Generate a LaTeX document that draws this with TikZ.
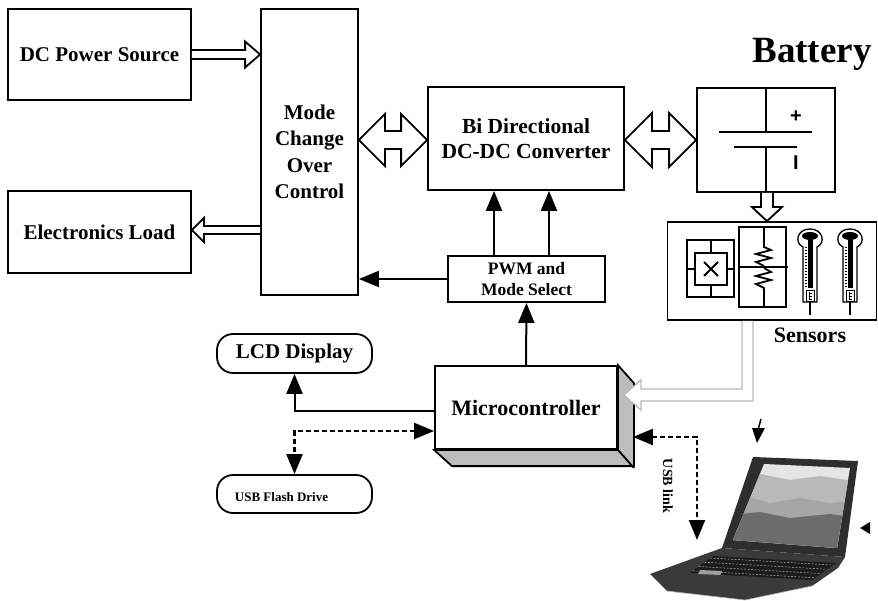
\documentclass[tikz,border=0pt]{standalone}
\usepackage{fontspec}
\setmainfont{Liberation Serif}
\newfontfamily\sansbold{Liberation Sans}
\usetikzlibrary{arrows.meta,calc}

\definecolor{lidgray}{HTML}{2E2E2E}
\definecolor{basegray}{HTML}{3A3A3A}
\definecolor{keygray}{HTML}{1C1C1C}
\definecolor{facegray}{HTML}{BDBDBD}

\tikzset{
  blk/.style={draw, line width=1.8pt, inner sep=0pt, align=center, fill=white,
              font=\bfseries\fontsize{21}{26}\selectfont},
  rblk/.style={blk, rounded corners=16pt},
  conn/.style={line width=2pt},
  dconn/.style={line width=2.2pt, dash pattern=on 5pt off 3pt},
  hollow/.style={draw, fill=white, line width=1.8pt, line join=miter},
  sym/.style={line width=1.8pt},
  tipA/.tip={Triangle[length=20pt,width=16pt]},
  thermo/.pic={
    \draw[line width=1.3pt, fill=white] (-7,57) -- (-7,2)
      .. controls (-16,-2) and (-13,-16) .. (0,-16)
      .. controls (13,-16) and (16,-2) .. (7,2) -- (7,57) -- cycle;
    \fill (0,-9) ellipse [x radius=8, y radius=4];
    \fill (-2.5,-7) rectangle (2.5,43);
    \foreach \t in {2,5,...,41} \draw[line width=0.5pt] (-5.5,\t) -- (-3,\t);
    \draw[line width=0.8pt] (-4,45) rectangle (4,56);
    \draw[line width=0.6pt] (-1,47) -- (-1,54) (-1,48) -- (2,48) (-1,51) -- (2,51) (-1,54) -- (2,54);
    \draw[line width=1.5pt] (0,57) -- (0,70);
  }
}

% straight block arrow: start, tip, shaft half width, head half width, head length
\newcommand\hollowarrow[5]{%
  \path ($(#2)!#5!(#1)$) coordinate (hb);
  \draw[hollow] ($(#1)!#3!90:(#2)$) -- ($(hb)!#3!-90:(#1)$) -- ($(hb)!#4!-90:(#1)$)
    -- (#2) -- ($(hb)!#4!90:(#1)$) -- ($(hb)!#3!90:(#1)$) -- ($(#1)!#3!-90:(#2)$);}

% double-headed block arrow
\newcommand\hollowdarrow[5]{%
  \path ($(#1)!#5!(#2)$) coordinate (hbA) ($(#2)!#5!(#1)$) coordinate (hbB);
  \draw[hollow] (#1) -- ($(hbA)!#4!90:(#2)$) -- ($(hbA)!#3!90:(#2)$)
    -- ($(hbB)!#3!-90:(#1)$) -- ($(hbB)!#4!-90:(#1)$) -- (#2)
    -- ($(hbB)!#4!90:(#1)$) -- ($(hbB)!#3!90:(#1)$)
    -- ($(hbA)!#3!-90:(#2)$) -- ($(hbA)!#4!-90:(#2)$) -- cycle;}

\begin{document}
\begin{tikzpicture}[x=1pt,y=-1pt]
\useasboundingbox (0,0) rectangle (878,601);

% ---------------- blocks ----------------
\node[blk, minimum width=183pt, minimum height=91pt] (dc) at (99.5,54.5) {DC Power Source};
\node[blk, minimum width=183pt, minimum height=82pt] (load) at (99.5,232) {Electronics Load};
\node[blk, minimum width=97pt, minimum height=286pt,
      font=\bfseries\fontsize{21}{26.5}\selectfont] (mode) at (309.5,152) {Mode\\Change\\Over\\Control};
\node[blk, minimum width=196pt, minimum height=103pt,
      font=\bfseries\fontsize{21.5}{25}\selectfont] (conv) at (526,138.5) {Bi Directional\\DC-DC Converter};
\node[blk, minimum width=138pt, minimum height=104pt] (bat) at (766,140) {};
\node[font=\bfseries\fontsize{37}{40}\selectfont] (battxt) at (812,54) {Battery};
\node[blk, minimum width=209pt, minimum height=98pt] (sens) at (772,271) {};
\node[font=\bfseries\fontsize{22}{24}\selectfont] (senstxt) at (810,335) {Sensors};
\node[blk, minimum width=157pt, minimum height=46pt,
      font=\bfseries\fontsize{17.5}{21}\selectfont] (pwm) at (526.5,279) {PWM and\\Mode Select};
\node[rblk, minimum width=155pt, minimum height=39pt] (lcd) at (294.5,353.5) {LCD Display};
\node[rblk, minimum width=155pt, minimum height=38pt] (usb) at (294.5,494) {};
\node[font=\bfseries\fontsize{13}{15}\selectfont] (usbtxt) at (281.5,497) {USB Flash Drive};

% microcontroller as a 3D block
\node[blk, minimum width=182pt, minimum height=83pt,
      font=\bfseries\fontsize{22}{24}\selectfont] (micro) at (526,407.5) {Microcontroller};
\draw[sym, fill=facegray, line join=miter] (micro.north east) -- ++(16,18) -- ++(0,83)
  -- ++(-182,0) -- (micro.south west) -- (micro.south east) -- cycle;
\draw[sym] (micro.south east) -- ++(16,18);

% ---------------- battery symbol ----------------
\draw[sym] (bat.north) -- ++(0,44);
\draw[sym] ($(bat.center)+(-47,-8)$) -- ++(93,0);
\draw[sym] ($(bat.center)+(-32,7)$) -- ++(63,0);
\draw[sym] ($(bat.center)+(0,7)$) -- (bat.south);
\node[font=\sansbold\bfseries\fontsize{20}{22}\selectfont] (plus) at ($(bat.center)+(30,-23)$) {+};
\node[font=\sansbold\bfseries\fontsize{20}{22}\selectfont] (minus) at ($(bat.center)+(30,23)$) {I};

% ---------------- sensor symbols ----------------
\draw[sym] (687,240) rectangle (734,297);
\draw[sym] (695,253) rectangle (727,285);
\draw[sym] (711,240) -- (711,253) (711,285) -- (711,297)
           (687,269) -- (695,269) (727,269) -- (734,269);
\draw[sym] (704,262) -- (718,276) (704,276) -- (718,262);

\draw[sym] (739,227) rectangle (786,307);
\draw[sym] (739,267) -- (788,267);
\draw[sym, line join=miter] (764,227) -- (764,247) -- (771,250) -- (756,254) -- (771,258)
  -- (756,262) -- (764,266);
\draw[sym, line join=miter] (764,268) -- (771,272) -- (756,276) -- (771,280)
  -- (756,284) -- (764,288) -- (764,307);

\pic at (810,245) {thermo};
\pic at (850,245) {thermo};

% ---------------- power path ----------------
\coordinate (a1) at (dc.east);
\coordinate (a2) at (dc.east -| mode.west);
\hollowarrow{a1}{a2}{4.5pt}{13pt}{15pt}

\coordinate (a3) at ($(mode.west)+(0,78)$);
\coordinate (a4) at (a3 -| load.east);
\hollowarrow{a3}{a4}{4pt}{12pt}{12pt}

\coordinate (b1) at ($(mode.east)+(0,-12)$);
\coordinate (b2) at (b1 -| conv.west);
\hollowdarrow{b1}{b2}{9pt}{26pt}{26pt}

\coordinate (c1) at ($(conv.east)+(0,1.5)$);
\coordinate (c2) at (c1 -| bat.west);
\hollowdarrow{c1}{c2}{9pt}{27pt}{27pt}

\coordinate (d1) at ($(bat.south)+(1,0)$);
\coordinate (d2) at (d1 |- sens.north);
\hollowarrow{d1}{d2}{6pt}{15pt}{14pt}

% sensor feedback into the microcontroller
\coordinate (e0) at ($(sens.south)+(-24.5,0)$);
\coordinate (etip) at ($(micro.east)+(6,-12.5)$);
\coordinate (ecorner) at (e0 |- etip);
\draw[draw=gray!55, fill=white, line width=1.3pt, line join=miter]
  ($(e0)+(-5.5,0)$) -- ($(ecorner)+(-5.5,-6)$) -- ($(etip)+(17,-6)$) -- ($(etip)+(17,-15)$)
  -- (etip) -- ($(etip)+(17,15)$) -- ($(etip)+(17,6)$) -- ($(ecorner)+(5.5,6)$)
  -- ($(e0)+(5.5,0)$);

% ---------------- control signals ----------------
\coordinate (q1) at ($(pwm.north)+(-32.5,0)$);
\coordinate (q2) at ($(pwm.north)+(22.5,0)$);
\draw[conn,-tipA] (q1) -- (q1 |- conv.south);
\draw[conn,-tipA] (q2) -- (q2 |- conv.south);
\draw[conn,-tipA] (pwm.west) -- (pwm.west -| mode.east);
\draw[conn,-tipA] (micro.north) -- (pwm.south);
\draw[conn,-tipA] ($(micro.west)+(0,3.5)$) -| (lcd.south);
\draw[dconn,tipA-tipA] ($(micro.west)+(0,23.5)$) -| (usb.north);

% ---------------- laptop ----------------
\coordinate (laptop) at (697,540);
\coordinate (f1) at ($(micro.east)+(15,29.5)$);
\draw[dconn,tipA-tipA] (f1) -| (laptop);
\node[font=\bfseries\fontsize{14}{16}\selectfont, rotate=-90] (usblink) at (668,486) {USB link};

% lid
\fill[lidgray] (753,457) -- (858,461) -- (845,557) -- (722,548) -- cycle;
\begin{scope}
  \clip (764,464) -- (850,468) -- (837,548) -- (733,540) -- cycle;
  \fill[gray!20] (720,455) rectangle (860,560);
  \fill[gray!55] (720,478) -- (760,474) -- (790,480) -- (820,476) -- (860,482) -- (860,560) -- (720,560) -- cycle;
  \fill[gray!70] (720,500) -- (745,496) -- (770,503) -- (800,498) -- (830,503) -- (860,500) -- (860,560) -- (720,560) -- cycle;
  \fill[gray!85!black] (720,516) -- (760,512) -- (790,518) -- (830,514) -- (860,518) -- (860,560) -- (720,560) -- cycle;
\end{scope}
% base and keyboard
\fill[basegray] (722,548) -- (845,557) -- (838,568) -- (812,586) -- (745,600) -- (667,591) -- (650,574) -- cycle;
\fill[keygray] (713,556) -- (836,563) -- (812,580) -- (690,573) -- cycle;
\foreach \k in {0,1,2,3}
  \draw[gray!60, line width=0.5pt, dash pattern=on 2pt off 1.5pt]
    ($(713,556)!\k/4+0.12!(690,573)$) -- ($(836,563)!\k/4+0.12!(812,580)$);
\fill[gray!75] (700,570) -- (722,571) -- (720,575) -- (698,574) -- cycle;
\draw[gray!60, line width=0.6pt] (667,591) -- (745,600) -- (812,586);

% small pointer marks near the laptop
\fill (752,428) -- (765,428) -- (757,443) -- cycle;
\draw[line width=1.5pt] (761,419) -- (758,430);
\fill (870,522) -- (870,534) -- (860,528) -- cycle;

\end{tikzpicture}
\end{document}
